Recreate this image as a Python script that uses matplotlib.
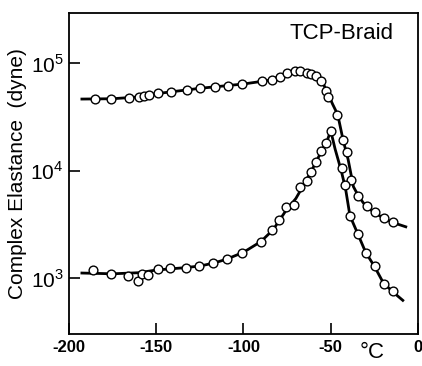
import numpy as np
import matplotlib
matplotlib.use("Agg")
import matplotlib.pyplot as plt

plt.rcParams['font.family'] = ['Liberation Sans', 'DejaVu Sans']
plt.rcParams['mathtext.fontset'] = 'custom'
plt.rcParams['mathtext.rm'] = 'Liberation Sans'

# upper branch, measured points (temperature in deg C, log10 of elastance in dyne)
upper_t = [-185.2, -176.1, -165.9, -159.7, -156.8, -154.0, -148.9, -141.5, -132.4, -125.0,
           -116.6, -108.7, -100.7, -89.6, -83.7, -79.1, -75.0, -70.6, -67.4, -63.6,
           -61.2, -58.5, -55.7, -52.7, -51.5, -46.6, -43.2, -40.9, -38.6, -34.4,
           -29.5, -24.4, -19.3, -14.2]
upper_logE = [4.665, 4.665, 4.674, 4.684, 4.693, 4.702, 4.721, 4.730, 4.749, 4.767,
              4.777, 4.789, 4.805, 4.833, 4.845, 4.867, 4.904, 4.926, 4.923, 4.904,
              4.898, 4.876, 4.830, 4.742, 4.687, 4.519, 4.284, 4.175, 3.912, 3.767,
              3.668, 3.612, 3.558, 3.524]

# lower branch, measured points
lower_t = [-186.0, -176.0, -166.1, -160.2, -158.0, -154.7, -149.0, -142.2, -133.0, -125.3,
           -117.2, -109.5, -101.0, -90.0, -83.6, -79.4, -75.6, -71.1, -67.4, -63.8,
           -61.4, -58.7, -55.7, -52.7, -50.0, -43.8, -41.9, -39.2, -34.5, -30.0,
           -24.4, -19.5, -14.4]
lower_logE = [3.074, 3.037, 3.016, 2.969, 3.037, 3.025, 3.081, 3.093, 3.098, 3.112,
              3.140, 3.174, 3.233, 3.337, 3.449, 3.540, 3.660, 3.684, 3.845, 3.902,
              3.983, 4.076, 4.184, 4.253, 4.370, 4.023, 3.865, 3.581, 3.414, 3.233,
              3.109, 2.947, 2.876]

# hand-drawn smooth curves through the points
upper_curve_t = [-192.6, -175, -160, -150, -125, -100, -85, -77, -70, -65, -60, -55, -52,
                 -49, -46, -43, -40, -37, -34, -30, -25, -20, -15, -7]
upper_curve_logE = [4.665, 4.668, 4.685, 4.715, 4.765, 4.805, 4.84, 4.89, 4.925, 4.915,
                    4.89, 4.83, 4.73, 4.62, 4.52, 4.29, 4.10, 3.85, 3.76, 3.67, 3.61,
                    3.56, 3.52, 3.477]
lower_curve_t = [-192.6, -175, -160, -150, -135, -125, -117, -110, -100, -90, -83, -76,
                 -70, -65, -60, -55, -52, -50, -47.5, -44, -41.5, -39, -35, -30, -25,
                 -20, -15, -8.7]
lower_curve_logE = [3.047, 3.04, 3.05, 3.075, 3.095, 3.112, 3.14, 3.174, 3.24, 3.34, 3.45,
                    3.62, 3.74, 3.88, 4.03, 4.19, 4.28, 4.37, 4.20, 4.0, 3.83, 3.58, 3.43,
                    3.24, 3.11, 2.96, 2.88, 2.793]

xticks = [-200, -150, -100, -50, 0]
yticks = [1e3, 1e4, 1e5]

fig = plt.figure(figsize=(4.22, 3.66), dpi=100)
ax = fig.add_axes([0.1635, 0.0874, 0.827, 0.877])

for ct, cl in [(upper_curve_t, upper_curve_logE), (lower_curve_t, lower_curve_logE)]:
    ax.plot(ct, 10 ** np.array(cl), color='black', lw=2.0, zorder=2)
for mt, ml in [(upper_t, upper_logE), (lower_t, lower_logE)]:
    ax.plot(mt, 10 ** np.array(ml), 'o', mfc='white', mec='black', mew=1.0, ms=6.3, zorder=3)

ax.set_yscale('log')
ax.set_xlim(-198, 0)
ax.set_ylim(10 ** 2.48, 10 ** 5.465)
ax.set_xticks(xticks)
ax.set_xticklabels([str(v) for v in xticks], fontsize=12, fontweight='bold')
ax.set_yticks(yticks)
ax.set_yticklabels([r'$10^3$', r'$10^4$', r'$10^5$'], fontsize=15)
ax.yaxis.set_minor_locator(matplotlib.ticker.NullLocator())
ax.tick_params(direction='in', length=8, width=1.2, pad=4)
ax.tick_params(axis='x', pad=4)
for s in ax.spines.values():
    s.set_linewidth(1.3)

ax.set_ylabel('Complex Elastance  (dyne)', fontsize=15, labelpad=2)
ax.text(0.93, 0.935, 'TCP-Braid', transform=ax.transAxes, ha='right', va='center', fontsize=16)
fig.text(0.882, 0.036, '°C', ha='center', va='center', fontsize=16)

fig.savefig('out.png', dpi=100)
